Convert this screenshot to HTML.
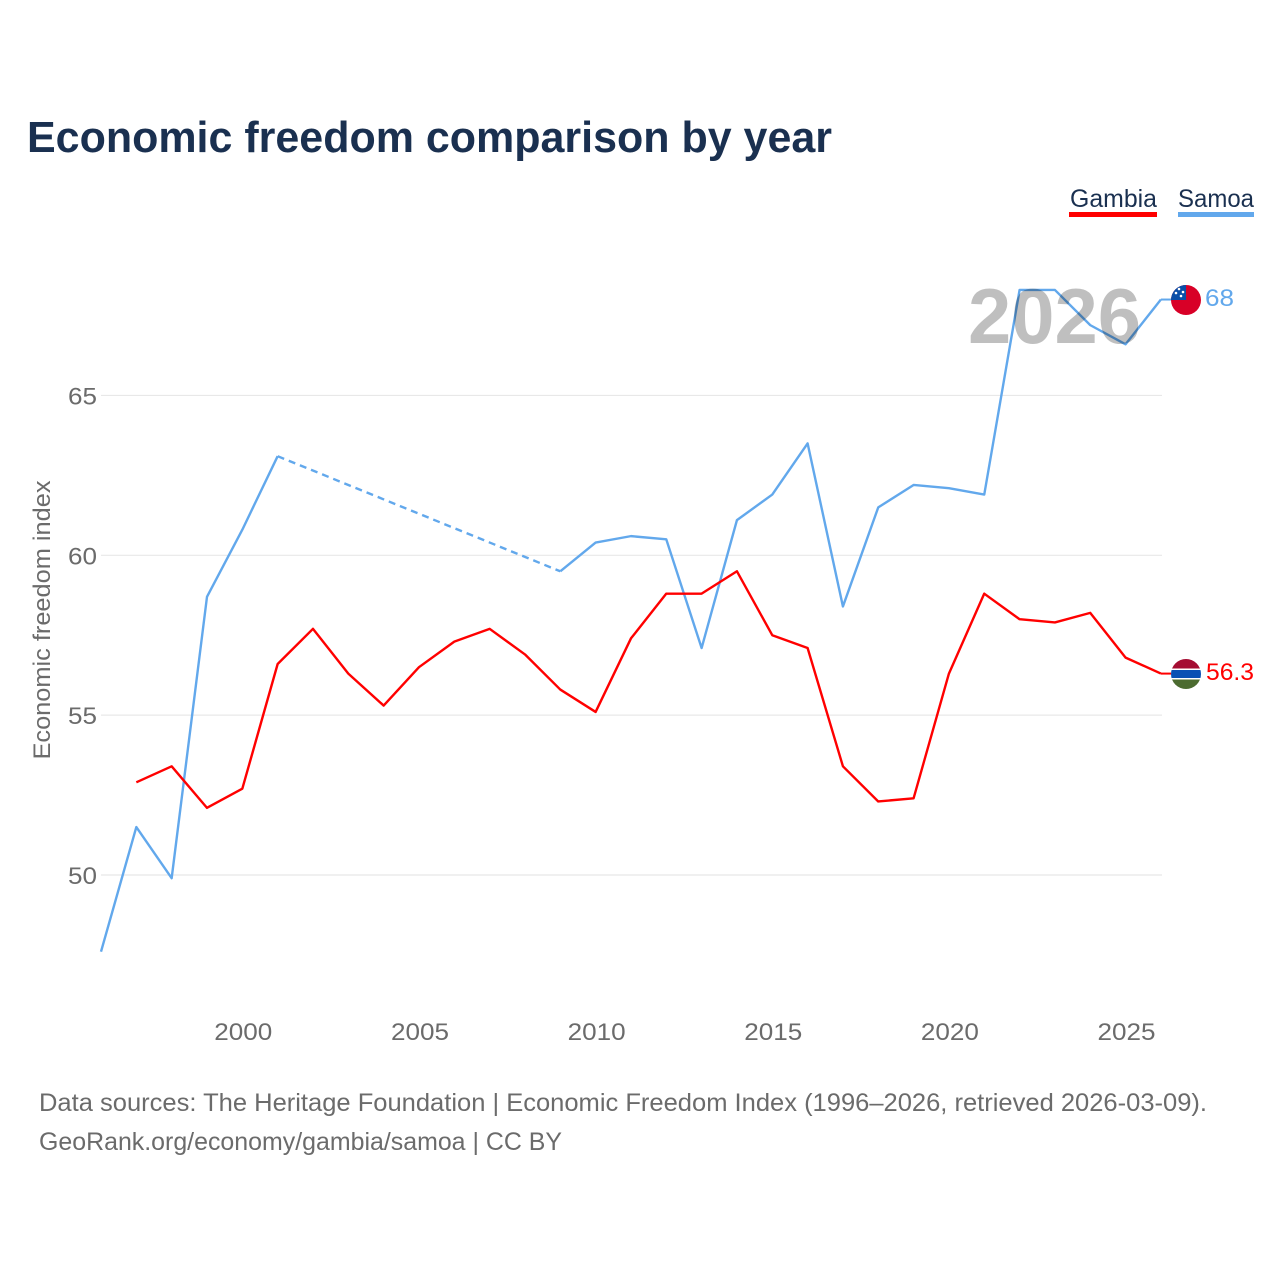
<!DOCTYPE html>
<html lang="en">
<head>
<meta charset="utf-8">
<title>Economic freedom comparison by year</title>
<style>
html,body{margin:0;padding:0;background:#fff;width:1280px;height:1280px;overflow:hidden}
svg{display:block}
text{font-family:"Liberation Sans",sans-serif}
</style>
</head>
<body>
<svg id="chart" width="1280" height="1280" viewBox="0 0 1280 1280" xmlns="http://www.w3.org/2000/svg">
  <defs>
    <clipPath id="flag-clip-samoa"><circle cx="1186" cy="300" r="15"/></clipPath>
    <clipPath id="flag-clip-gambia"><circle cx="1186" cy="674" r="15"/></clipPath>
  </defs>
  <rect x="0" y="0" width="1280" height="1280" fill="#ffffff"/>
  <text x="27" y="152" font-size="44" font-weight="700" fill="#1a3050" textLength="805" lengthAdjust="spacingAndGlyphs">Economic freedom comparison by year</text>
  <g>
    <text x="1070" y="207" font-size="25" fill="#1a3050" textLength="87" lengthAdjust="spacingAndGlyphs">Gambia</text>
    <rect x="1069" y="212" width="88" height="5" fill="#ff0000"/>
    <text x="1178" y="207" font-size="25" fill="#1a3050" textLength="76" lengthAdjust="spacingAndGlyphs">Samoa</text>
    <rect x="1178" y="212" width="76" height="5" fill="#62a8ec"/>
  </g>
  <g id="grid"></g>
  <g id="y-axis"></g>
  <g id="x-axis"></g>
  <text transform="translate(50,620) rotate(-90)" text-anchor="middle" font-size="24" fill="#6b6b6b" textLength="279" lengthAdjust="spacingAndGlyphs">Economic freedom index</text>
  <g id="series"></g>
  <text x="968" y="343" font-size="78" font-weight="700" fill="#000000" fill-opacity="0.25" textLength="173" lengthAdjust="spacingAndGlyphs">2026</text>
  <g clip-path="url(#flag-clip-samoa)">
    <rect x="1171" y="285" width="30" height="30" fill="#d80027"/>
    <rect x="1171" y="285" width="15" height="15" fill="#0a4fa8"/>
    <circle cx="1179" cy="289" r="1.3" fill="#fff"/>
    <circle cx="1183" cy="292" r="1.3" fill="#fff"/>
    <circle cx="1176" cy="293" r="1.3" fill="#fff"/>
    <circle cx="1181" cy="296" r="1.3" fill="#fff"/>
  </g>
  <g clip-path="url(#flag-clip-gambia)">
    <rect x="1171" y="659" width="30" height="30" fill="#ffffff"/>
    <rect x="1171" y="659" width="30" height="9.5" fill="#a50d32"/>
    <rect x="1171" y="670" width="30" height="8" fill="#0a50b4"/>
    <rect x="1171" y="679.5" width="30" height="9.5" fill="#4c6b30"/>
  </g>
  <text id="end-label-samoa" x="1205" y="306" font-size="24" fill="#62a8ec" textLength="29" lengthAdjust="spacingAndGlyphs"></text>
  <text id="end-label-gambia" x="1206" y="680" font-size="24" fill="#ff0000" textLength="48" lengthAdjust="spacingAndGlyphs"></text>
  <g>
    <text x="39" y="1111" font-size="25" fill="#6b6b6b" textLength="1168" lengthAdjust="spacingAndGlyphs">Data sources: The Heritage Foundation | Economic Freedom Index (1996–2026, retrieved 2026-03-09).</text>
    <text x="39" y="1150" font-size="25" fill="#6b6b6b" textLength="523" lengthAdjust="spacingAndGlyphs">GeoRank.org/economy/gambia/samoa | CC BY</text>
  </g>
</svg>
<script>
const years = [1996,1997,1998,1999,2000,2001,2002,2003,2004,2005,2006,2007,2008,2009,2010,2011,2012,2013,2014,2015,2016,2017,2018,2019,2020,2021,2022,2023,2024,2025,2026];
const gambiaValues = [null,52.9,53.4,52.1,52.7,56.6,57.7,56.3,55.3,56.5,57.3,57.7,56.9,55.8,55.1,57.4,58.8,58.8,59.5,57.5,57.1,53.4,52.3,52.4,56.3,58.8,58.0,57.9,58.2,56.8,56.3];
const samoaValues = [47.6,51.5,49.9,58.7,60.8,63.1,null,null,null,null,null,null,null,59.5,60.4,60.6,60.5,57.1,61.1,61.9,63.5,58.4,61.5,62.2,62.1,61.9,68.3,68.3,67.2,66.6,68];
const yTicks = [50,55,60,65];
const xTicks = [2000,2005,2010,2015,2020,2025];

const NS = 'http://www.w3.org/2000/svg';
const xScale = function (year) { return 101 + (year - 1996) * 35.33; };
const yScale = function (value) { return 875 - (value - 50) * 31.97; };

function make(tag, parent, attrs, content) {
  const el = document.createElementNS(NS, tag);
  Object.keys(attrs).forEach(function (k) { el.setAttribute(k, attrs[k]); });
  if (content !== undefined) el.textContent = content;
  parent.appendChild(el);
  return el;
}

const gridGroup = document.getElementById('grid');
const yAxisGroup = document.getElementById('y-axis');
const xAxisGroup = document.getElementById('x-axis');
const seriesGroup = document.getElementById('series');

yTicks.forEach(function (tick) {
  const line = make('line', gridGroup, { x1: 101, x2: 1162, y1: yScale(tick), y2: yScale(tick), stroke: '#e8e8e8', 'stroke-width': 1.2 });
  
  
  const label = make('text', yAxisGroup, { x: 97, y: yScale(tick) + 9, 'text-anchor': 'end', 'font-size': 24, fill: '#6b6b6b', textLength: 29, lengthAdjust: 'spacingAndGlyphs' }, String(tick));
  
  
});

xTicks.forEach(function (tick) {
  const label = make('text', xAxisGroup, { x: xScale(tick) + 1, y: 1040, 'text-anchor': 'middle', 'font-size': 24, fill: '#6b6b6b', textLength: 58, lengthAdjust: 'spacingAndGlyphs' }, String(tick));
  
  
});

function drawSeries(values, color, name) {
  let solid = '';
  let dashed = '';
  let last = -1;
  values.forEach(function (v, i) {
    if (v === null) return;
    const px = xScale(years[i]).toFixed(2) + ' ' + yScale(v).toFixed(2);
    if (last === -1) {
      solid += 'M' + px;
    } else if (last === i - 1) {
      solid += 'L' + px;
    } else {
      dashed += 'M' + xScale(years[last]).toFixed(2) + ' ' + yScale(values[last]).toFixed(2) + 'L' + px;
      solid += 'M' + px;
    }
    last = i;
  });
  const solidPath = make('path', seriesGroup, { d: solid, fill: 'none', stroke: color, 'stroke-width': 2.4, 'stroke-linejoin': 'round' });
  
  
  if (dashed) {
    const gapPath = make('path', seriesGroup, { d: dashed, fill: 'none', stroke: color, 'stroke-width': 2.4, 'stroke-dasharray': '7 5' });
    
    
  }
  const n = values.length - 1;
  const connector = make('line', seriesGroup, { x1: xScale(years[n]), x2: 1172, y1: yScale(values[n]), y2: yScale(values[n]), stroke: color, 'stroke-width': 2 });
  
  
}

drawSeries(samoaValues, '#62a8ec', 'samoa');
drawSeries(gambiaValues, '#ff0000', 'gambia');

document.getElementById('end-label-samoa').textContent = String(samoaValues[samoaValues.length - 1]);
document.getElementById('end-label-gambia').textContent = String(gambiaValues[gambiaValues.length - 1]);
</script>
</body>
</html>
